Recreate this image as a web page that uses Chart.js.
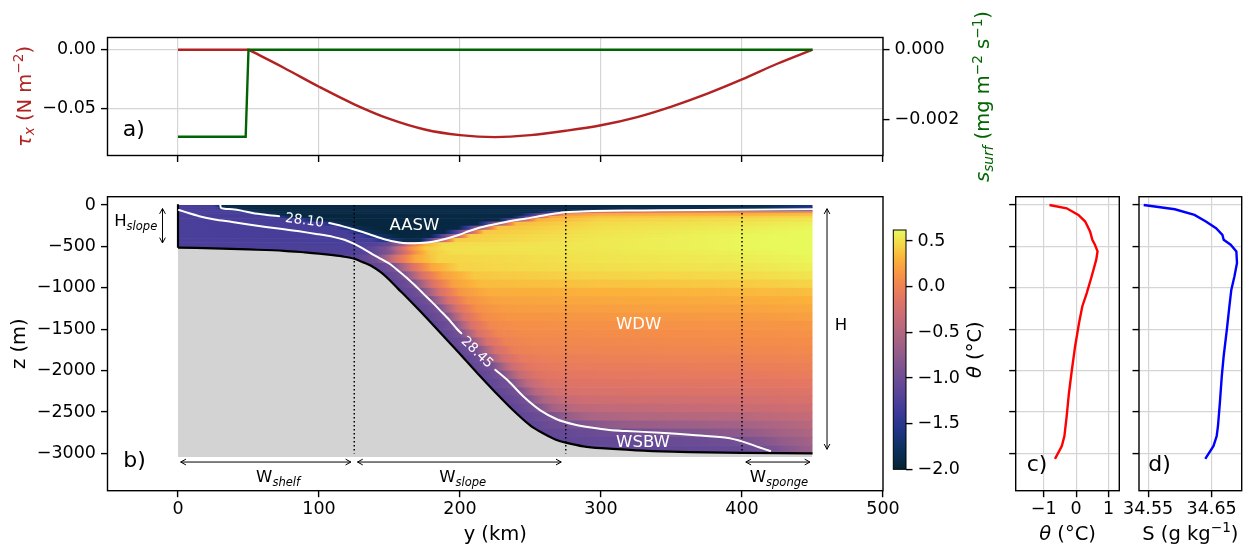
<!DOCTYPE html>
<html>
<head>
<meta charset="utf-8">
<title>Forcing and temperature section</title>
<script src="https://cdn.jsdelivr.net/npm/chart.js@4.4.1/dist/chart.umd.min.js"></script>
<style>
  body { margin: 0; background: #fff; }
  #fig { position: relative; width: 1250px; height: 550px; }
  #fig canvas { position: absolute; left: 0; top: 0; }
</style>
</head>
<body>
<div id="fig">
  <canvas id="forcing" width="1250" height="550"></canvas>
  <canvas id="section" width="1250" height="550"></canvas>
  <canvas id="cbar" width="1250" height="550"></canvas>
  <canvas id="thetaProf" width="1250" height="550"></canvas>
  <canvas id="saltProf" width="1250" height="550"></canvas>
</div>
<script>
// ---------- data ----------

// a) wind stress (N m-2) and surface salt flux (mg m-2 s-1) along y (km)
const windY = [0, 50, 75, 100, 125, 150, 175, 200, 225, 250, 275, 300, 325, 350, 375, 400, 425, 450];
const windTau = [0, 0, -0.0154, -0.0316, -0.0466, -0.0591, -0.0681, -0.0729, -0.0746, -0.0729, -0.0692,
  -0.0645, -0.0577, -0.0485, -0.0377, -0.0254, -0.0120, 0];
const fluxY = [0, 48, 50, 450];
const saltFlux = [-0.0025, -0.0025, 0, 0];

// b) bathymetry (y km, z m)
const bathyY = [0, 25, 50, 75, 90, 100, 110, 118, 125, 131, 137.5, 144, 150, 156, 162.5, 175, 187.5, 200,
  212.5, 225, 237.5, 250, 256, 262.5, 268, 275, 287.5, 300, 325, 350, 375, 400, 450];
const bathyZ = [-515, -523, -537, -553, -572, -587, -606, -625, -650, -690, -740, -815, -905, -1010, -1120,
  -1340, -1570, -1800, -2035, -2260, -2475, -2665, -2730, -2790, -2835, -2870, -2915, -2937, -2962, -2978,
  -2988, -2994, -3000];
const wallZ = [8, -515];
const gridBottom = -3043;

// zone boundaries (km): shelf | slope | interior | sponge
const zoneEdges = [125, 275, 400];

// potential density contours, split where the label sits
const iso2810a = [[30, 0], [30.5, -35], [33, -46], [38.6, -52], [45, -68], [52.8, -96], [62, -118], [71.7, -136]];
const iso2810b = [[107.2, -217], [116, -252], [125, -296], [135.7, -353], [146.3, -413], [157, -452], [163, -462],
  [167.6, -461], [174, -455], [180.6, -443], [190, -408], [199.6, -359], [206, -318], [213.8, -275], [221, -245],
  [228, -220], [237, -190], [247, -164], [258, -130], [270.6, -96], [282, -82], [294.3, -72], [318, -67],
  [341.6, -64], [400, -58], [450, -52]];
const iso2845a = [[0.7, -60], [8, -100], [15, -136], [26, -175], [38.4, -205], [50, -236], [62.3, -265], [74, -290],
  [86, -318], [98, -350], [110, -385], [118, -420], [125, -470], [131, -525], [138, -595], [144, -652], [150, -710],
  [156, -790], [162, -875], [168, -970], [174, -1070], [180, -1170], [186, -1275], [192, -1380], [198, -1500],
  [201, -1550]];
const iso2845b = [[225, -1990], [234, -2120], [245, -2313], [257, -2480], [269, -2590], [281, -2650], [293, -2688],
  [306, -2718], [318, -2730], [342, -2750], [365, -2778], [389, -2812], [401, -2860], [412, -2925], [420, -2970]];

// potential temperature (degC): layer edges in z, and [y, theta] samples along each layer
const fieldZ = [0, -25, -50, -75, -100, -130, -160, -200, -250, -300, -350, -400, -450, -500, -550, -600,
  -700, -800, -900, -1000, -1100, -1200, -1300, -1400, -1500, -1600, -1700, -1800, -1900, -2000,
  -2100, -2200, -2300, -2400, -2500, -2600, -2700, -2800, -2900, -3000];
const fieldRows = [
  [[0, -1.27], [25, -1.3], [31, -1.88], [60, -1.92], [300, -1.9], [415, -1.85], [450, -1.6]],
  [[0, -1.27], [27, -1.3], [35, -1.86], [60, -1.92], [300, -1.9], [415, -1.82], [450, -1.5]],
  [[0, -1.27], [36, -1.3], [46, -1.84], [70, -1.92], [290, -1.85], [420, -1.7], [450, -1.3]],
  [[0, -1.27], [45, -1.3], [56, -1.84], [80, -1.92], [255, -1.88], [272, -1.1], [290, -0.2], [350, 0.0], [450, 0.1]],
  [[0, -1.27], [55, -1.3], [66, -1.84], [90, -1.93], [243, -1.9], [261, -0.8], [275, 0.15], [300, 0.28], [400, 0.3], [450, 0.36]],
  [[0, -1.27], [68, -1.3], [80, -1.84], [100, -1.93], [237, -1.9], [253, -0.7], [265, 0.25], [300, 0.38], [400, 0.42], [450, 0.46]],
  [[0, -1.27], [85, -1.3], [97, -1.84], [115, -1.93], [227, -1.9], [243, -0.6], [255, 0.3], [300, 0.44], [400, 0.48], [450, 0.52]],
  [[0, -1.27], [100, -1.3], [113, -1.84], [130, -1.95], [212, -1.9], [228, -0.6], [240, 0.35], [300, 0.48], [400, 0.53], [450, 0.57]],
  [[0, -1.27], [112, -1.3], [125, -1.84], [145, -1.95], [199, -1.9], [215, -0.6], [227, 0.38], [300, 0.5], [400, 0.56], [450, 0.6]],
  [[0, -1.27], [120, -1.3], [133, -1.8], [150, -1.95], [189, -1.9], [205, -0.6], [217, 0.4], [300, 0.52], [400, 0.58], [450, 0.62]],
  [[0, -1.27], [128, -1.3], [142, -1.75], [158, -1.93], [179, -1.9], [195, -0.6], [207, 0.42], [300, 0.53], [400, 0.6], [450, 0.62]],
  [[0, -1.27], [137, -1.3], [150, -1.66], [162, -1.85], [172, -1.85], [185, -0.6], [197, 0.42], [300, 0.54], [400, 0.6], [450, 0.62]],
  [[0, -1.27], [122, -1.27], [140, -1.2], [150, -1.05], [158, -0.7], [166, -0.1], [175, 0.3], [188, 0.48], [300, 0.54], [400, 0.6], [450, 0.62]],
  [[0, -1.27], [120, -1.25], [136, -1.15], [148, -0.9], [157, -0.35], [165, 0.1], [175, 0.4], [190, 0.5], [300, 0.54], [400, 0.6], [450, 0.62]],
  [[0, -1.27], [124, -1.23], [138, -1.13], [150, -0.86], [159, -0.35], [168, 0.1], [178, 0.4], [195, 0.5], [300, 0.53], [400, 0.58], [450, 0.62]],
  [[0, -1.2], [125, -1.15], [133, -1.08], [141, -0.96], [146, -0.7], [155, -0.2], [168, 0.25], [185, 0.45], [300, 0.52], [400, 0.56], [450, 0.6]],
  [[0, -1.12], [138, -1.12], [145, -1.06], [153, -0.95], [157, -0.7], [166, -0.2], [180, 0.25], [200, 0.45], [300, 0.5], [400, 0.53], [450, 0.57]],
  [[0, -1.12], [146, -1.12], [153, -1.06], [160, -0.95], [164, -0.7], [173, -0.2], [188, 0.2], [210, 0.4], [300, 0.45], [400, 0.48], [450, 0.52]],
  [[0, -1.12], [153, -1.12], [160, -1.06], [166.5, -0.95], [171, -0.7], [180, -0.2], [195, 0.2], [215, 0.35], [300, 0.38], [400, 0.41], [450, 0.45]],
  [[0, -1.12], [158, -1.12], [165, -1.06], [172.5, -0.95], [177, -0.7], [186, -0.2], [200, 0.15], [220, 0.28], [300, 0.3], [400, 0.33], [450, 0.36]],
  [[0, -1.12], [164, -1.12], [171, -1.06], [178.5, -0.95], [183, -0.7], [192, -0.2], [206, 0.12], [225, 0.22], [300, 0.25], [400, 0.27], [450, 0.3]],
  [[0, -1.12], [169.5, -1.12], [177, -1.06], [184.5, -0.95], [189, -0.7], [198, -0.2], [212, 0.1], [230, 0.18], [300, 0.2], [400, 0.22], [450, 0.25]],
  [[0, -1.12], [175, -1.12], [182, -1.06], [190, -0.95], [194, -0.7], [203, -0.2], [217, 0.08], [235, 0.14], [300, 0.15], [400, 0.17], [450, 0.2]],
  [[0, -1.12], [180.5, -1.12], [188, -1.06], [195, -0.95], [199, -0.7], [208, -0.2], [222, 0.05], [240, 0.1], [300, 0.11], [400, 0.13], [450, 0.15]],
  [[0, -1.12], [186, -1.12], [193, -1.06], [200, -0.95], [204, -0.7], [213, -0.2], [227, 0.03], [245, 0.07], [300, 0.08], [400, 0.1], [450, 0.12]],
  [[0, -1.12], [191, -1.12], [198, -1.06], [205.7, -0.95], [210, -0.7], [219, -0.22], [233, 0.0], [250, 0.04], [300, 0.05], [400, 0.07], [450, 0.09]],
  [[0, -1.12], [196.5, -1.12], [203, -1.06], [211.5, -0.95], [216, -0.7], [225, -0.24], [239, -0.03], [255, 0.01], [300, 0.02], [400, 0.04], [450, 0.06]],
  [[0, -1.12], [201.6, -1.12], [209, -1.06], [217, -0.95], [221, -0.72], [230, -0.28], [244, -0.07], [260, -0.03], [300, -0.02], [400, 0.0], [450, 0.02]],
  [[0, -1.12], [207, -1.12], [214, -1.06], [222.7, -0.95], [227, -0.74], [236, -0.32], [250, -0.11], [265, -0.07], [300, -0.06], [400, -0.04], [450, -0.02]],
  [[0, -1.12], [212.5, -1.12], [220, -1.06], [229, -0.95], [233, -0.76], [242, -0.36], [256, -0.15], [270, -0.11], [300, -0.1], [400, -0.08], [450, -0.06]],
  [[0, -1.12], [218.5, -1.12], [226, -1.06], [235, -0.95], [239, -0.78], [248, -0.4], [262, -0.2], [276, -0.16], [300, -0.15], [400, -0.13], [450, -0.11]],
  [[0, -1.12], [224.5, -1.12], [232, -1.06], [241, -0.95], [245, -0.8], [254, -0.45], [268, -0.26], [282, -0.21], [300, -0.2], [400, -0.18], [450, -0.16]],
  [[0, -1.12], [230.4, -1.12], [238, -1.06], [247, -0.95], [251, -0.82], [260, -0.52], [274, -0.34], [290, -0.29], [300, -0.28], [400, -0.25], [450, -0.22]],
  [[0, -1.12], [236.4, -1.12], [244, -1.06], [253, -0.95], [257, -0.85], [266, -0.6], [280, -0.44], [300, -0.39], [400, -0.33], [450, -0.28]],
  [[0, -1.12], [242.5, -1.12], [251, -1.06], [262, -0.98], [268, -0.86], [278, -0.68], [292, -0.55], [320, -0.5], [400, -0.45], [450, -0.36]],
  [[0, -1.12], [248.5, -1.12], [258, -1.06], [270, -1.0], [282, -0.92], [297, -0.8], [320, -0.7], [400, -0.6], [450, -0.45]],
  [[0, -1.12], [258, -1.1], [280, -1.06], [320, -1.0], [345, -0.9], [375, -0.84], [400, -0.75], [430, -0.6], [450, -0.52]],
  [[0, -1.12], [271, -1.1], [300, -1.08], [350, -1.05], [390, -1.0], [410, -0.88], [430, -0.72], [450, -0.6]],
  [[0, -1.12], [315, -1.1], [360, -1.08], [400, -1.05], [420, -0.94], [435, -0.8], [450, -0.66]],
];
const thetaMin = -2.0, thetaMax = 0.62;

// c), d) restoring profiles
const thetaZ = [0, -40, -120, -200, -320, -420, -480, -560, -660, -860, -1060, -1225, -1425, -1705, -1990,
  -2270, -2550, -2790, -2910, -3065];
const thetaProfile = [-0.82, -0.29, 0.07, 0.28, 0.43, 0.5, 0.58, 0.66, 0.62, 0.48, 0.33, 0.19, 0.09, -0.03,
  -0.13, -0.22, -0.29, -0.36, -0.44, -0.65];
const saltZ = [0, -52, -120, -200, -280, -360, -420, -480, -560, -700, -860, -1025, -1225, -1505, -1825,
  -2070, -2390, -2670, -2790, -2910, -3065];
const saltProfile = [34.543, 34.592, 34.623, 34.641, 34.657, 34.667, 34.669, 34.68, 34.689, 34.69, 34.686,
  34.681, 34.678, 34.674, 34.669, 34.666, 34.663, 34.66, 34.658, 34.653, 34.64];

// tick values
const kmTicks = [0, 100, 200, 300, 400, 500];
const depthTicks = [0, -500, -1000, -1500, -2000, -2500, -3000];
const tauTicks = [0, -0.05];
const fluxTicks = [0, -0.002];
const cbarTicks = [0.5, 0, -0.5, -1, -1.5, -2];
const thetaTicks = [-1, 0, 1];
const saltTicks = [34.55, 34.65];

// ---------- helpers ----------
const FONT = "'DejaVu Sans'";
Chart.defaults.font.family = FONT;
Chart.defaults.color = '#000';

const minus = s => String(s).replace('-', '\u2212');
const pts = (xs, ys) => xs.map((x, i) => ({ x, y: ys[i] }));
const pairPts = arr => arr.map(([x, y]) => ({ x, y }));

// cmocean "thermal"-like colormap
const thermalStops = [
  [0.00, 4, 35, 51], [0.08, 12, 47, 90], [0.16, 31, 52, 133], [0.24, 60, 58, 153],
  [0.32, 89, 68, 153], [0.40, 117, 80, 146], [0.48, 145, 91, 138], [0.56, 173, 101, 130],
  [0.64, 202, 108, 117], [0.72, 228, 118, 98], [0.80, 245, 142, 72], [0.88, 251, 178, 58],
  [0.94, 245, 215, 72], [1.00, 232, 250, 91]
];
const thermal = theta => {
  const t = Math.min(1, Math.max(0, (theta - thetaMin) / (thetaMax - thetaMin)));
  let i = 0;
  while (i < thermalStops.length - 2 && t > thermalStops[i + 1][0]) i++;
  const a = thermalStops[i], b = thermalStops[i + 1];
  const f = (t - a[0]) / (b[0] - a[0]);
  const c = [1, 2, 3].map(k => Math.round(a[k] + (b[k] - a[k]) * f));
  return `rgb(${c[0]},${c[1]},${c[2]})`;
};

// mixed text with italic / sub / superscript pieces; (x, y) is the centre of the capitals
function richText(ctx, parts, x, y, { size = 16.5, color = '#000', align = 'center', rot = 0 } = {}) {
  const font = p => `${p.it ? 'italic ' : ''}${p.sub || p.sup ? size * 0.7 : size}px ${FONT}`;
  let w = 0;
  parts.forEach(p => { ctx.font = font(p); w += ctx.measureText(p.t).width; });
  ctx.save();
  ctx.translate(x, y);
  ctx.rotate(rot);
  ctx.fillStyle = color;
  ctx.textAlign = 'left';
  ctx.textBaseline = 'alphabetic';
  let cx = align === 'left' ? 0 : align === 'right' ? -w : -w / 2;
  parts.forEach(p => {
    ctx.font = font(p);
    const dy = p.sub ? size * 0.2 : p.sup ? -size * 0.38 : 0;
    ctx.fillText(p.t, cx, size * 0.36 + dy);
    cx += ctx.measureText(p.t).width;
  });
  ctx.restore();
}

const frame = chart => {
  const { ctx, chartArea: a } = chart;
  ctx.save();
  ctx.strokeStyle = '#000';
  ctx.lineWidth = 1.4;
  ctx.strokeRect(a.left, a.top, a.right - a.left, a.bottom - a.top);
  ctx.restore();
};

const panelLabel = (chart, txt, fx, fy) => {
  const { ctx, chartArea: a } = chart;
  ctx.save();
  ctx.font = `22px ${FONT}`;
  ctx.fillStyle = '#000';
  ctx.textAlign = 'left';
  ctx.textBaseline = 'middle';
  ctx.fillText(txt, a.left + fx * (a.right - a.left), a.top + fy * (a.bottom - a.top));
  ctx.restore();
};

// double-headed arrow with open heads
const arrow = (ctx, x0, y0, x1, y1) => {
  ctx.beginPath(); ctx.moveTo(x0, y0); ctx.lineTo(x1, y1); ctx.stroke();
  [[x0, y0, x1, y1], [x1, y1, x0, y0]].forEach(([ax, ay, bx, by]) => {
    const ang = Math.atan2(ay - by, ax - bx), h = 6;
    ctx.beginPath();
    ctx.moveTo(ax - h * Math.cos(ang - 0.5), ay - h * Math.sin(ang - 0.5));
    ctx.lineTo(ax, ay);
    ctx.lineTo(ax - h * Math.cos(ang + 0.5), ay - h * Math.sin(ang + 0.5));
    ctx.stroke();
  });
};

const axis = o => ({
  type: 'linear',
  min: o.min, max: o.max,
  position: o.pos,
  bounds: 'data',
  grid: {
    display: true, drawOnChartArea: !!o.grid, color: '#d5d5d5', lineWidth: 1.2,
    drawTicks: true, tickLength: 6.5, tickWidth: 1.4, tickColor: '#000'
  },
  border: { display: false },
  ticks: {
    display: o.labels !== false, font: { family: FONT, size: 17.5 }, color: '#000',
    padding: o.pad !== undefined ? o.pad : 5, autoSkip: false, maxRotation: 0, minRotation: 0,
    callback: o.fmt || (v => minus(v))
  },
  afterBuildTicks: s => { s.ticks = o.ticks.map(v => ({ value: v })); },
  afterFit: s => { if (s.isHorizontal()) s.height = o.size; else s.width = o.size; }
});

const baseOptions = (padding, scales) => ({
  responsive: false,
  animation: false,
  events: [],
  devicePixelRatio: 1,
  layout: { padding },
  plugins: { legend: { display: false }, tooltip: { enabled: false } },
  elements: { point: { radius: 0 } },
  scales
});

const line = (data, color, extra = {}) => Object.assign({
  data, borderColor: color, borderWidth: 2, pointRadius: 0, fill: false
}, extra);

// ---------- a) forcing ----------
const forcingDecor = {
  id: 'forcingDecor',
  afterDatasetsDraw(chart) {
    const { ctx, chartArea: a } = chart;
    const mid = (a.top + a.bottom) / 2;
    frame(chart);
    richText(ctx, [{ t: '\u03c4', it: true }, { t: 'x', it: true, sub: true }, { t: ' (N m' },
      { t: '\u22122', sup: true }, { t: ')' }], a.left - 84, mid, { size: 19.5, color: '#b22222', rot: -Math.PI / 2 });
    richText(ctx, [{ t: 's', it: true }, { t: 'surf', it: true, sub: true }, { t: ' (mg m' },
      { t: '\u22122', sup: true }, { t: ' s' }, { t: '\u22121', sup: true }, { t: ')' }],
      a.right + 99, mid, { size: 19.5, color: '#006400', rot: -Math.PI / 2 });
    panelLabel(chart, 'a)', 0.0196, 0.79);
  }
};

// stress is zero on the shelf, then a smooth curve from the 50 km point on
const windFlat = pts(windY.slice(0, 2), windTau.slice(0, 2));
const windCurve = pts(windY.slice(1), windTau.slice(1));

new Chart(document.getElementById('forcing'), {
  type: 'line',
  data: {
    datasets: [
      line(pts(fluxY, saltFlux), '#006400', { yAxisID: 'y1', order: 1, borderWidth: 2.4 }),
      line(windFlat, '#b22222', { yAxisID: 'y', order: 2, borderWidth: 2.4 }),
      line(windCurve, '#b22222', { yAxisID: 'y', order: 2, borderWidth: 2.4, cubicInterpolationMode: 'monotone' })
    ]
  },
  options: baseOptions({ left: 17.5, right: 277, top: 37.5, bottom: 384.5 }, {
    x: axis({ min: -50, max: 500, pos: 'bottom', grid: true, labels: false, ticks: kmTicks, size: 10 }),
    y: axis({ min: -0.0903, max: 0.0104, pos: 'left', grid: true, ticks: tauTicks, size: 90, fmt: v => minus(v.toFixed(2)) }),
    y1: axis({ min: -0.00304, max: 0.00035, pos: 'right', grid: false, ticks: fluxTicks, size: 90, fmt: v => minus(v.toFixed(3)) })
  }),
  plugins: [forcingDecor]
});

// ---------- b) temperature section ----------
const sectionDecor = {
  id: 'sectionDecor',
  beforeDatasetsDraw(chart) {
    const { ctx, scales: { x, y } } = chart;
    const x0 = x.getPixelForValue(0), x1 = x.getPixelForValue(450);
    ctx.save();
    fieldRows.forEach((stops, i) => {
      const top = y.getPixelForValue(fieldZ[i]), bot = y.getPixelForValue(fieldZ[i + 1]);
      const g = ctx.createLinearGradient(x0, 0, x1, 0);
      for (let k = 0; k < stops.length - 1; k++) {
        const [ya, ta] = stops[k], [yb, tb] = stops[k + 1];
        for (let s = 0; s <= 4; s++) {
          const yy = ya + (yb - ya) * s / 4, tt = ta + (tb - ta) * s / 4;
          g.addColorStop((x.getPixelForValue(yy) - x0) / (x1 - x0), thermal(tt));
        }
      }
      ctx.fillStyle = g;
      ctx.fillRect(x0, top, x1 - x0, bot - top + 0.6);
    });
    ctx.restore();
  },
  afterDatasetsDraw(chart) {
    const { ctx, chartArea: a, scales: { x, y } } = chart;
    const px = v => x.getPixelForValue(v), py = v => y.getPixelForValue(v);
    ctx.save();
    ctx.strokeStyle = '#000';
    ctx.lineWidth = 1;
    // H_slope, H and the zone widths
    arrow(ctx, px(-11), py(-43), px(-11), py(-458));
    arrow(ctx, px(460.3), py(-45), px(460.3), py(-2950));
    arrow(ctx, px(1.9), py(-3104), px(122.6), py(-3104));
    arrow(ctx, px(127.3), py(-3104), px(271.8), py(-3104));
    arrow(ctx, px(402.7), py(-3104), px(448.2), py(-3104));
    ctx.restore();

    richText(ctx, [{ t: 'H' }, { t: 'slope', it: true, sub: true }], px(-30), py(-188));
    richText(ctx, [{ t: 'H' }], px(470.2), py(-1437));
    richText(ctx, [{ t: 'W' }, { t: 'shelf', it: true, sub: true }], px(71), py(-3277));
    richText(ctx, [{ t: 'W' }, { t: 'slope', it: true, sub: true }], px(201.9), py(-3277));
    richText(ctx, [{ t: 'W' }, { t: 'sponge', it: true, sub: true }], px(426.2), py(-3277));

    richText(ctx, [{ t: 'AASW' }], px(167.6), py(-235), { color: '#fff' });
    richText(ctx, [{ t: 'WDW' }], px(326.7), py(-1429), { color: '#fff' });
    richText(ctx, [{ t: 'WSBW' }], px(329.8), py(-2855), { color: '#fff' });
    richText(ctx, [{ t: '28.10' }], px(89.8), py(-175), { color: '#fff', size: 13.5, rot: 0.13 });
    richText(ctx, [{ t: '28.45' }], px(212.6), py(-1771), { color: '#fff', size: 13.5, rot: 0.77 });

    frame(chart);
    richText(ctx, [{ t: 'z (m)' }], a.left - 90, (a.top + a.bottom) / 2, { size: 19.5, rot: -Math.PI / 2 });
    richText(ctx, [{ t: 'y (km)' }], (a.left + a.right) / 2, a.bottom + 42.5, { size: 19.5 });
    panelLabel(chart, 'b)', 0.0204, 0.901);
  }
};

const zoneLines = zoneEdges.map(e => line([{ x: e, y: 0 }, { x: e, y: -3000 }], '#000',
  { borderWidth: 1.5, borderDash: [1.5, 2.5], order: 2 }));
const isoStyle = { borderWidth: 2, tension: 0.25, borderJoinStyle: 'round', borderCapStyle: 'round', order: 1 };

new Chart(document.getElementById('section'), {
  type: 'line',
  data: {
    datasets: [
      line(pairPts(iso2810a), '#fff', isoStyle),
      line(pairPts(iso2810b), '#fff', isoStyle),
      line(pairPts(iso2845a), '#fff', isoStyle),
      line(pairPts(iso2845b), '#fff', isoStyle),
      ...zoneLines,
      line([{ x: 0, y: wallZ[0] }, { x: 0, y: wallZ[1] }], '#000', { borderWidth: 2.2, order: 3 }),
      line(pts(bathyY, bathyZ), '#000', {
        borderWidth: 2.2, tension: 0.3, order: 4,
        fill: { value: gridBottom }, backgroundColor: '#d3d3d3'
      })
    ]
  },
  options: baseOptions({ left: 17.5, right: 367, top: 196.7, bottom: 19.3 }, {
    x: axis({ min: -50, max: 500, pos: 'bottom', ticks: kmTicks, size: 40, pad: 2 }),
    y: axis({ min: -3450, max: 100, pos: 'left', ticks: depthTicks, size: 90 })
  }),
  plugins: [sectionDecor]
});

// ---------- colour bar ----------
const cbarDecor = {
  id: 'cbarDecor',
  beforeDatasetsDraw(chart) {
    const { ctx, chartArea: a, scales: { y } } = chart;
    const g = ctx.createLinearGradient(0, y.getPixelForValue(thetaMin), 0, y.getPixelForValue(thetaMax));
    thermalStops.forEach(s => g.addColorStop(s[0], `rgb(${s[1]},${s[2]},${s[3]})`));
    ctx.save();
    ctx.fillStyle = g;
    ctx.fillRect(a.left, a.top, a.right - a.left, a.bottom - a.top);
    ctx.strokeStyle = '#000';
    ctx.lineWidth = 1;
    ctx.strokeRect(a.left, a.top, a.right - a.left, a.bottom - a.top);
    ctx.restore();
    richText(ctx, [{ t: '\u03b8', it: true }, { t: ' (\u00b0C)' }], a.right + 67.5, (a.top + a.bottom) / 2,
      { size: 19.5, rot: -Math.PI / 2 });
  }
};

new Chart(document.getElementById('cbar'), {
  type: 'line',
  data: { datasets: [] },
  options: baseOptions({ left: 893.3, right: 284, top: 230, bottom: 80.7 }, {
    x: { type: 'linear', display: false, min: 0, max: 1 },
    y: axis({ min: thetaMin, max: thetaMax, pos: 'right', ticks: cbarTicks, size: 60, fmt: v => minus(v.toFixed(1)) })
  }),
  plugins: [cbarDecor]
});

// ---------- c), d) profiles ----------
const profileDecor = (id, letter, title) => ({
  id,
  afterDatasetsDraw(chart) {
    const a = chart.chartArea;
    frame(chart);
    richText(chart.ctx, title, (a.left + a.right) / 2, a.bottom + 42, { size: 19.5 });
    panelLabel(chart, letter, letter === 'c)' ? 0.106 : 0.0906, 0.912);
  }
});

new Chart(document.getElementById('thetaProf'), {
  type: 'line',
  data: { datasets: [line(pts(thetaProfile, thetaZ), '#ff0000', { borderWidth: 2.4 })] },
  options: baseOptions({ left: 1005.7, right: 130.7, top: 196.7, bottom: 19.3 }, {
    x: axis({ min: -1.86, max: 1.33, pos: 'bottom', grid: true, ticks: thetaTicks, size: 40, pad: 2 }),
    y: axis({ min: -3450, max: 100, pos: 'left', grid: true, labels: false, ticks: depthTicks, size: 10 })
  }),
  plugins: [profileDecor('thetaDecor', 'c)', [{ t: '\u03b8', it: true }, { t: ' (\u00b0C)' }])]
});

new Chart(document.getElementById('saltProf'), {
  type: 'line',
  data: { datasets: [line(pts(saltProfile, saltZ), '#0000ff', { borderWidth: 2.4 })] },
  options: baseOptions({ left: 1129, right: 8.3, top: 196.7, bottom: 19.3 }, {
    x: axis({ min: 34.5356, max: 34.6974, pos: 'bottom', grid: true, ticks: saltTicks, size: 40, pad: 2, fmt: v => v.toFixed(2) }),
    y: axis({ min: -3450, max: 100, pos: 'left', grid: true, labels: false, ticks: depthTicks, size: 10 })
  }),
  plugins: [profileDecor('saltDecor', 'd)', [{ t: 'S (g kg' }, { t: '\u22121', sup: true }, { t: ')' }])]
});
</script>
</body>
</html>
